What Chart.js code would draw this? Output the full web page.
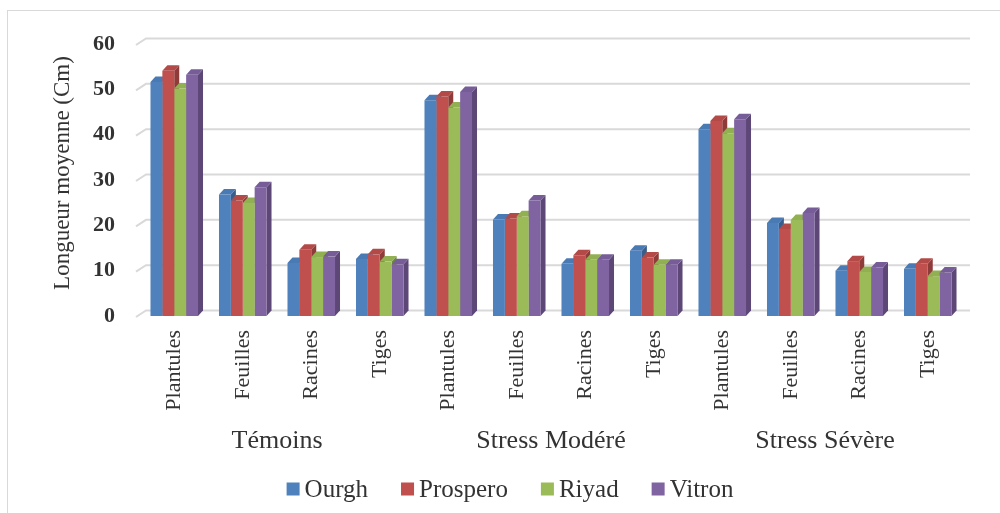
<!DOCTYPE html>
<html lang="fr">
<head>
<meta charset="utf-8">
<title>Longueur moyenne</title>
<script src="https://cdn.jsdelivr.net/npm/chart.js@4"></script>
<style>
  html, body { margin: 0; padding: 0; background: #fff; }
  #wrap { position: relative; width: 1000px; height: 513px; }
</style>
</head>
<body>
<div id="wrap"><canvas id="lengthChart" width="1000" height="513"></canvas></div>
<script>
// Organes mesurés, répétés pour chaque traitement
const categories = ['Plantules', 'Feuilles', 'Racines', 'Tiges',
                    'Plantules', 'Feuilles', 'Racines', 'Tiges',
                    'Plantules', 'Feuilles', 'Racines', 'Tiges'];
const groups = ['Témoins', 'Stress Modéré', 'Stress Sévère'];
const yTicks = [0, 10, 20, 30, 40, 50, 60];

// Longueur moyenne (cm) par variété
const ourgh    = [51.6, 26.8, 11.7, 12.6, 47.6, 21.3, 11.5, 14.4, 41.2, 20.5, 10.0, 10.4];
const prospero = [54.1, 25.5, 14.6, 13.6, 48.4, 21.5, 13.4, 12.9, 43.0, 19.2, 12.1, 11.5];
const riyad    = [50.2, 24.9, 13.0, 12.0, 46.0, 22.0, 12.4, 11.3, 40.3, 21.2,  9.7,  8.8];
const vitron   = [53.2, 28.4, 13.1, 11.4, 49.4, 25.5, 12.4, 11.3, 43.4, 22.7, 10.7,  9.6];

const names = ['Ourgh', 'Prospero', 'Riyad', 'Vitron'];
const frontColors = ['#4f81bd', '#c0504d', '#9bbb59', '#8064a2'];
const topColors   = ['#4a7ab4', '#b34a47', '#90b052', '#775d98'];
const sideColors  = ['#385e8b', '#8e3b39', '#6f8a40', '#5c4776'];

const SERIF = '"Liberation Serif", "Times New Roman", serif';
const TEXT = '#333333';
const DX = 5, DY = 5.5; // profondeur des barres 3D

// Mur du fond, graduations et faces latérales/supérieures des barres
const depthPlugin = {
    id: 'depth',
    beforeDraw(chart) {
        const ctx = chart.ctx;
        ctx.save();
        ctx.strokeStyle = '#d9d9d9';
        ctx.lineWidth = 1;
        ctx.strokeRect(7.5, 10.5, 1100, 600);
        ctx.restore();
    },
    beforeDatasetsDraw(chart) {
        const ctx = chart.ctx;
        const { left, right } = chart.chartArea;
        const y = chart.scales.y;
        ctx.save();
        ctx.strokeStyle = '#d9d9d9';
        ctx.lineWidth = 2;
        yTicks.forEach(v => {
            const py = y.getPixelForValue(v);
            ctx.beginPath();
            ctx.moveTo(left - 4, py + 1);
            ctx.lineTo(left + 6, py - DY);
            ctx.lineTo(right + 8, py - DY);
            ctx.stroke();
        });

        const metas = chart.data.datasets.map((d, i) => chart.getDatasetMeta(i));
        for (let c = 0; c < categories.length; c++) {
            metas.forEach((meta, s) => {
                const bar = meta.data[c];
                const half = bar.width / 2;
                const x0 = bar.x - half, x1 = bar.x + half;
                const top = bar.y, base = bar.base;
                // face latérale
                ctx.fillStyle = sideColors[s];
                ctx.beginPath();
                ctx.moveTo(x1, top);
                ctx.lineTo(x1 + DX, top - DY);
                ctx.lineTo(x1 + DX, base - DY);
                ctx.lineTo(x1, base);
                ctx.closePath();
                ctx.fill();
                // face supérieure
                ctx.fillStyle = topColors[s];
                ctx.beginPath();
                ctx.moveTo(x0, top);
                ctx.lineTo(x0 + DX, top - DY);
                ctx.lineTo(x1 + DX, top - DY);
                ctx.lineTo(x1, top);
                ctx.closePath();
                ctx.fill();
            });
        }
        ctx.restore();
    },
    afterDraw(chart) {
        const ctx = chart.ctx;
        const x = chart.scales.x;
        const area = chart.chartArea;
        ctx.save();
        ctx.fillStyle = TEXT;
        ctx.textBaseline = 'middle';

        // Titre de l'axe vertical
        ctx.save();
        ctx.translate(63, 173);
        ctx.rotate(-Math.PI / 2);
        ctx.textAlign = 'center';
        ctx.font = '23px ' + SERIF;
        ctx.fillText('Longueur moyenne (Cm)', 0, 0);
        ctx.restore();

        // Traitements sous les organes
        ctx.font = '26px ' + SERIF;
        ctx.textAlign = 'center';
        groups.forEach((g, i) => {
            const a = x.getPixelForValue(i * 4);
            const b = x.getPixelForValue(i * 4 + 3);
            ctx.fillText(g, (a + b) / 2, 441);
        });

        // Légende
        ctx.font = '25px ' + SERIF;
        ctx.textAlign = 'left';
        const box = 13, gap = 5, spacing = 33;
        const widths = names.map(n => box + gap + ctx.measureText(n).width);
        const total = widths.reduce((a, b) => a + b, 0) + spacing * (names.length - 1);
        let lx = 510 - total / 2;
        const ly = 489;
        names.forEach((n, i) => {
            ctx.fillStyle = frontColors[i];
            ctx.fillRect(lx, ly - box / 2, box, box);
            ctx.fillStyle = TEXT;
            ctx.fillText(n, lx + box + gap, ly + 1);
            lx += widths[i] + spacing;
        });
        ctx.restore();
    }
};

const series = [ourgh, prospero, riyad, vitron];

new Chart(document.getElementById('lengthChart').getContext('2d'), {
    type: 'bar',
    data: {
        labels: categories,
        datasets: series.map((values, i) => ({
            label: names[i],
            data: values,
            backgroundColor: frontColors[i],
            borderWidth: 0,
            barPercentage: 1,
            categoryPercentage: 0.694
        }))
    },
    options: {
        responsive: false,
        animation: false,
        devicePixelRatio: 1,
        layout: { padding: { top: 44, left: 45, right: 38, bottom: 0 } },
        scales: {
            x: {
                grid: { display: false },
                border: { display: false },
                ticks: {
                    minRotation: 90,
                    maxRotation: 90,
                    padding: 6,
                    color: TEXT,
                    font: { family: SERIF, size: 22 }
                },
                afterFit: scale => { scale.height = 197; }
            },
            y: {
                min: 0,
                max: 60,
                grid: { display: false },
                border: { display: false },
                ticks: {
                    stepSize: 10,
                    padding: 17,
                    color: TEXT,
                    font: { family: SERIF, size: 22, weight: 'bold' }
                },
                afterFit: scale => { scale.width = 95; }
            }
        },
        plugins: {
            legend: { display: false },
            tooltip: { enabled: false }
        }
    },
    plugins: [depthPlugin]
});
</script>
</body>
</html>
